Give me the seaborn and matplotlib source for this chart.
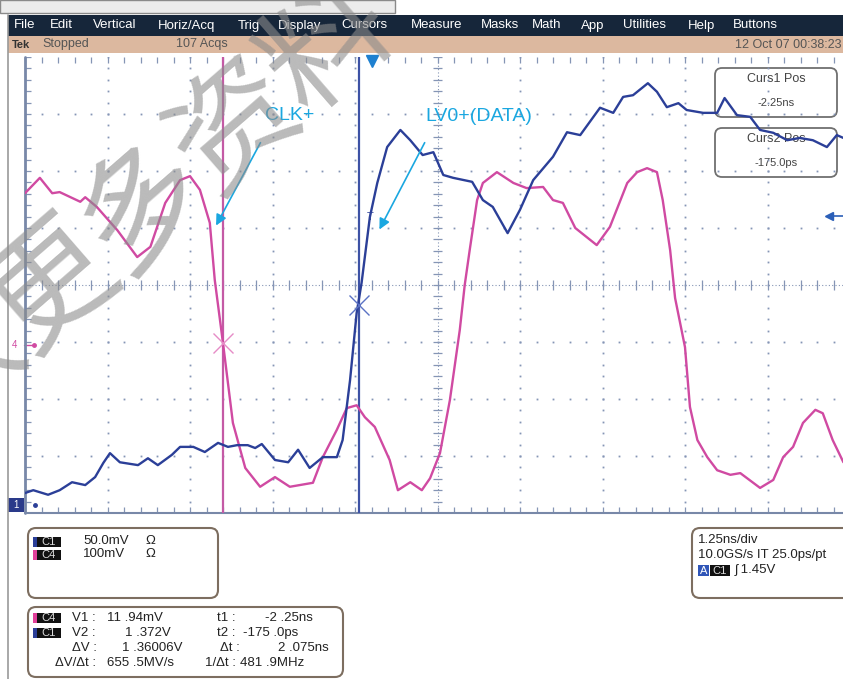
import numpy as np
import matplotlib
matplotlib.use('Agg')
import matplotlib.pyplot as plt
import seaborn as sns
from matplotlib.patches import FancyBboxPatch, Rectangle

sns.set_theme(style='white')
plt.rcParams['font.family'] = ['Liberation Sans', 'Noto Sans CJK SC', 'DejaVu Sans']

# ---- waveform data, in graticule divisions (x: 1.25 ns/div, y: volts/div) ----
ch4_t = [0.00, 0.18, 0.33, 0.42, 0.67, 0.73, 0.87, 1.12, 1.36, 1.52, 1.70, 1.88, 2.00,
         2.12, 2.24, 2.30, 2.40, 2.52, 2.67, 2.85, 3.03, 3.21, 3.49, 3.61, 3.78, 3.90,
         4.02, 4.12, 4.24, 4.42, 4.52, 4.67, 4.81, 4.91, 5.03, 5.15, 5.27, 5.33, 5.39,
         5.48, 5.55, 5.72, 5.92, 6.08, 6.28, 6.40, 6.52, 6.67, 6.93, 7.09, 7.30, 7.42,
         7.54, 7.66, 7.73, 7.82, 7.88, 8.00, 8.06, 8.15, 8.27, 8.39, 8.55, 8.67, 8.91,
         9.07, 9.19, 9.31, 9.43, 9.58, 9.67, 9.79, 9.92]
ch4_v = [5.61, 5.88, 5.61, 5.63, 5.46, 5.54, 5.37, 4.96, 4.49, 4.67, 5.44, 5.84, 5.91,
         5.67, 5.09, 4.09, 2.98, 1.58, 0.79, 0.46, 0.63, 0.46, 0.53, 0.98, 1.46, 1.84,
         1.89, 1.68, 1.51, 0.93, 0.40, 0.54, 0.40, 0.61, 1.05, 1.98, 3.21, 4.00, 4.61,
         5.49, 5.79, 5.98, 5.79, 5.70, 5.72, 5.49, 5.44, 5.00, 4.70, 5.02, 5.79, 5.98,
         6.05, 5.98, 5.49, 4.61, 3.77, 2.91, 1.86, 1.28, 0.98, 0.75, 0.67, 0.70, 0.44,
         0.58, 0.98, 1.16, 1.58, 1.81, 1.75, 1.28, 0.89]

ch1_t = [0.00, 0.10, 0.28, 0.42, 0.57, 0.73, 0.85, 0.95, 1.03, 1.15, 1.37, 1.49, 1.61,
         1.78, 1.88, 2.04, 2.18, 2.34, 2.46, 2.57, 2.70, 2.79, 2.87, 3.03, 3.19, 3.31,
         3.45, 3.61, 3.78, 3.85, 3.94, 4.02, 4.08, 4.18, 4.27, 4.39, 4.55, 4.67, 4.82,
         4.95, 5.07, 5.19, 5.42, 5.55, 5.67, 5.85, 6.00, 6.16, 6.40, 6.57, 6.73, 6.97,
         7.13, 7.25, 7.37, 7.55, 7.66, 7.78, 7.92, 8.02, 8.22, 8.39, 8.48, 8.63, 8.79,
         8.91, 9.07, 9.24, 9.39, 9.55, 9.72, 9.84, 9.92]
ch1_v = [0.35, 0.40, 0.32, 0.40, 0.54, 0.49, 0.63, 0.88, 1.05, 0.89, 0.84, 0.96, 0.84,
         1.02, 1.16, 1.16, 1.07, 1.23, 1.16, 1.19, 1.19, 1.14, 1.21, 0.93, 0.89, 1.11,
         0.79, 0.98, 0.98, 1.28, 2.33, 3.51, 4.04, 5.19, 5.79, 6.42, 6.72, 6.54, 6.28,
         6.33, 5.93, 5.88, 5.81, 5.49, 5.37, 4.91, 5.32, 5.84, 6.25, 6.68, 6.63, 7.11,
         7.02, 7.30, 7.33, 7.54, 7.39, 7.12, 7.19, 7.07, 7.02, 7.02, 7.28, 6.98, 6.95,
         6.72, 6.67, 6.54, 6.58, 6.54, 6.42, 6.63, 6.58]

cursor_t = [2.40, 4.05]
cursor_v = [2.98, 3.65]

menu_items = ['File', 'Edit', 'Vertical', 'Horiz/Acq', 'Trig', 'Display', 'Cursors',
              'Measure', 'Masks', 'Math', 'App', 'Utilities', 'Help', 'Buttons']
menu_x = [14, 50, 93, 158, 238, 278, 341, 411, 481, 532, 581, 623, 688, 733]

pink = '#d04aa2'
navy = '#2b3f98'
cyan = '#1aa7e0'
grat = '#8595b5'

fig = plt.figure(figsize=(8.43, 6.79), dpi=100)
fig.patch.set_facecolor('white')

# screen chrome in pixel coordinates
ui = fig.add_axes([0, 0, 1, 1])
ui.set_xlim(0, 843)
ui.set_ylim(679, 0)
ui.axis('off')

ui.add_patch(Rectangle((0, 0), 395, 13, facecolor='#ececec', edgecolor='#8a8a8a', lw=1))
ui.add_patch(Rectangle((8, 15), 835, 21, facecolor='#16263a', edgecolor='none'))
ui.add_patch(Rectangle((8, 36), 835, 17, facecolor='#dcb89f', edgecolor='none'))
ui.plot([8, 8], [15, 679], color='#9a9a9a', lw=1.2)
for name, x in zip(menu_items, menu_x):
    ui.text(x, 25.5, name, color='white', fontsize=9.5, va='center', ha='left')
ui.text(12, 44.5, 'Tek', color='#333333', fontsize=8, fontweight='bold', va='center')
ui.text(42, 44.5, 'Stopped', color='#555555', fontsize=9, va='center')
ui.text(176, 44.5, '107 Acqs', color='#555555', fontsize=9, va='center')
ui.text(735, 44.5, '12 Oct 07 00:38:23', color='#555555', fontsize=9, va='center')

# bottom readout boxes
box_kw = dict(boxstyle='round,pad=0,rounding_size=8', facecolor='white',
              edgecolor='#7d6e60', lw=1.5)
ui.add_patch(FancyBboxPatch((28, 528), 190, 70, **box_kw))
ui.add_patch(FancyBboxPatch((28, 607), 315, 70, **box_kw))
ui.add_patch(FancyBboxPatch((692, 528), 170, 70, **box_kw))


def badge(x, y, label, stripe):
    ui.add_patch(Rectangle((x, y - 5), 4, 10, facecolor=stripe, edgecolor='none'))
    ui.add_patch(Rectangle((x + 4, y - 5), 24, 10, facecolor='#111111', edgecolor='none'))
    ui.text(x + 16, y, label, color='#dddddd', fontsize=8, ha='center', va='center')


fs = 9.5
badge(33, 542, 'C1', navy)
ui.text(83, 541, '50.0mV', fontsize=fs, va='center', color='#222')
ui.text(145, 541, 'Ω', fontsize=fs, va='center', color='#222')
badge(33, 555, 'C4', '#e0409a')
ui.text(83, 554, '100mV', fontsize=fs, va='center', color='#222')
ui.text(145, 554, 'Ω', fontsize=fs, va='center', color='#222')

badge(33, 618, 'C4', '#e0409a')
badge(33, 633, 'C1', navy)
rows = [(618, 'V1 :', 72, '11 .94mV', 107, 't1 :', 217, '-2 .25ns', 265),
        (633, 'V2 :', 72, '1 .372V', 125, 't2 :', 217, '-175 .0ps', 243),
        (648, 'ΔV :', 72, '1 .36006V', 122, 'Δt :', 220, '2 .075ns', 278),
        (663, 'ΔV/Δt :', 55, '655 .5MV/s', 107, '1/Δt :', 205, '481 .9MHz', 240)]
for y, a, ax_, b, bx, c, cx, d, dx in rows:
    for s, x in [(a, ax_), (b, bx), (c, cx), (d, dx)]:
        ui.text(x, y, s, fontsize=fs, va='center', color='#222')

ui.text(698, 540, '1.25ns/div', fontsize=fs, va='center', color='#222')
ui.text(698, 555, '10.0GS/s IT 25.0ps/pt', fontsize=fs, va='center', color='#222')
ui.add_patch(Rectangle((698, 565), 11, 11, facecolor='#2f55b8', edgecolor='none'))
ui.text(703.5, 570.5, 'A', color='white', fontsize=8, ha='center', va='center')
ui.add_patch(Rectangle((710, 565), 20, 11, facecolor='#111111', edgecolor='none'))
ui.text(720, 570.5, 'C1', color='#dddddd', fontsize=8, ha='center', va='center')
ui.text(735, 570.5, 'ʃ 1.45V', fontsize=fs, va='center', color='#222')

# graticule and traces
X0, Y0, DX, DY = 25, 513, 82.5, 57
ax = fig.add_axes([X0 / 843, (679 - Y0) / 679, (843 - X0) / 843, (Y0 - 57) / 679])
ax.set_xlim(0, (843 - X0) / DX)
ax.set_ylim(0, 8)
ax.axis('off')

mx = np.arange(0, 10.01, 0.2)
my = np.arange(0, 8.01, 0.2)
for k in range(1, 10):
    if k != 5:
        ax.plot(np.full_like(my, k), my, ls='none', marker='s', ms=1.3, color=grat, mew=0)
for j in range(1, 8):
    if j != 4:
        ax.plot(mx, np.full_like(mx, j), ls='none', marker='s', ms=1.3, color=grat, mew=0)
ax.plot([0, 10], [4, 4], color=grat, lw=0.8, ls=(0, (1, 2)))
ax.plot([5, 5], [0, 8], color=grat, lw=0.8, ls=(0, (1, 2)))
ax.vlines(mx, 4 - 0.08, 4 + 0.08, color=grat, lw=0.9)
ax.hlines(my, 5 - 0.06, 5 + 0.06, color=grat, lw=0.9)
ax.vlines(mx, 8 - 0.1, 8, color=grat, lw=0.9, clip_on=False)
ax.vlines(mx, 0, 0.1, color=grat, lw=0.9)
ax.hlines(my, 0, 0.07, color=grat, lw=0.9)
ax.plot([0, 0], [0, 8], color='#7888a8', lw=2, clip_on=False)
ax.plot([0, 10], [0, 0], color='#7888a8', lw=1.5, clip_on=False)

# cursor readout boxes (behind traces)
for (y, title, val) in [(68, 'Curs1 Pos', '-2.25ns'), (128, 'Curs2 Pos', '-175.0ps')]:
    ax.add_patch(FancyBboxPatch((715, y), 122, 49, boxstyle='round,pad=0,rounding_size=7',
                                facecolor='none', edgecolor='#707070', lw=1.3,
                                transform=ui.transData, clip_on=False, zorder=1))
    ax.text(776, y + 11, title, transform=ui.transData, fontsize=9, ha='center',
            va='center', color='#444', zorder=1)
    ax.text(776, y + 35, val, transform=ui.transData, fontsize=8, ha='center',
            va='center', color='#444', zorder=1)

ax.axvline(cursor_t[0], color='#c45aa5', lw=1.6, zorder=2)
ax.axvline(cursor_t[1], color='#3d52a5', lw=1.6, zorder=2)

sns.lineplot(x=ch4_t, y=ch4_v, ax=ax, color=pink, lw=1.7, sort=False, estimator=None, zorder=4)
sns.lineplot(x=ch1_t, y=ch1_v, ax=ax, color=navy, lw=1.7, sort=False, estimator=None, zorder=4)

ax.plot(cursor_t[0], cursor_v[0], marker='x', ms=14, mew=1, color='#e68cc6', zorder=5)
ax.plot(cursor_t[1], cursor_v[1], marker='x', ms=14, mew=1, color='#5b72c4', zorder=5)
ax.text(4.18, 5.19, 'T', color=navy, fontsize=8, ha='center', va='center', zorder=5)

# channel / trigger markers
ax.plot(4.2, 7.93, marker='v', ms=8, color='#1e80d0', clip_on=False, zorder=5)
ui.text(15, 345, '4', color=pink, fontsize=7, ha='center', va='center')
ui.plot([24, 34], [345, 345], color=pink, lw=1)
ui.plot(34, 345, marker='o', ms=2.5, color=pink)
ui.add_patch(Rectangle((8, 498), 16, 14, facecolor='#2a3a8a', edgecolor='none'))
ui.text(16, 505, '1', color='white', fontsize=7, ha='center', va='center')
ax.plot(0.12, 0.14, marker='o', ms=2.5, color=navy, clip_on=False, zorder=5)
ax.plot(9.75, 5.21, marker='<', ms=6, color='#2b5fb8', clip_on=False, zorder=5)
ax.plot([9.75, 9.92], [5.21, 5.21], color='#2b5fb8', lw=1.2, clip_on=False, zorder=5)

# annotations
ax.annotate('', xy=(2.30, 5.00), xytext=(2.87, 6.54),
            arrowprops=dict(arrowstyle='-|>', color=cyan, lw=1.2, mutation_scale=16), zorder=6)
ax.text(2.91, 6.98, 'CLK+', color=cyan, fontsize=14, va='center', ha='left', zorder=6)
ax.annotate('', xy=(4.28, 4.93), xytext=(4.86, 6.54),
            arrowprops=dict(arrowstyle='-|>', color=cyan, lw=1.2, mutation_scale=16), zorder=6)
ax.text(4.85, 6.95, 'LV0+(DATA)', color=cyan, fontsize=14, va='center', ha='left', zorder=6)

# watermark
wm = ['获', '取', '更', '多', '资', '料']
ang = np.deg2rad(41)
for i, ch in enumerate(wm):
    px = 52 + (i - 2) * 122 * np.cos(ang)
    py = 287 - (i - 2) * 122 * np.sin(ang)
    fig.text(px / 843, 1 - py / 679, ch, fontsize=90, rotation=41, color='#8c8c8c', alpha=0.6,
             ha='center', va='center', family=['Noto Sans CJK SC'], fontweight='medium', zorder=10)

fig.savefig('out.png', dpi=100)
